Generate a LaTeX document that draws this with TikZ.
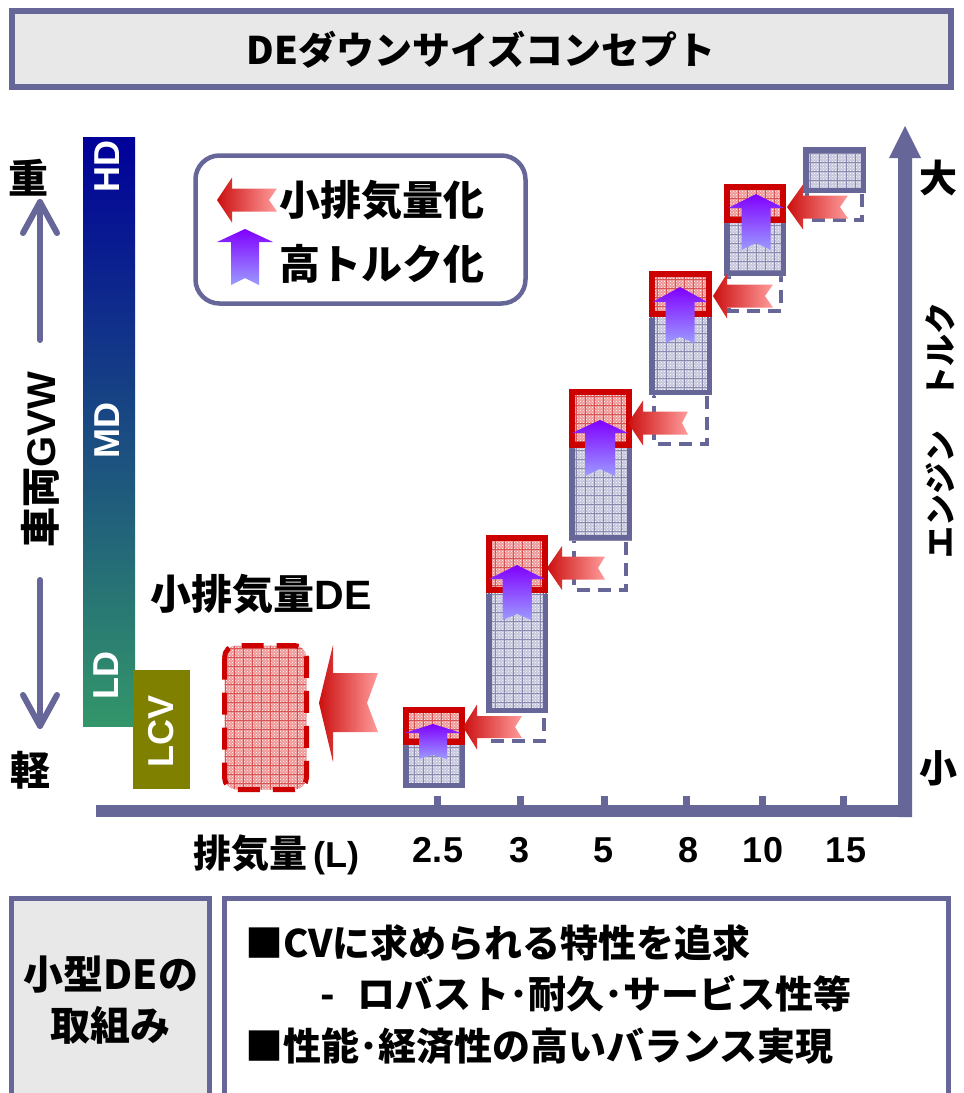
\documentclass[tikz,border=0pt]{standalone}
\usepackage{fontspec}
\setmainfont{Liberation Sans}
\newfontfamily\jp{Noto Sans CJK JP}
\usetikzlibrary{patterns}
\definecolor{slate}{HTML}{666699}
\definecolor{panelgray}{HTML}{E8E8E8}
\definecolor{redline}{HTML}{CC0000}
\definecolor{rdark}{HTML}{CC1010}
\definecolor{rlight}{HTML}{FF9C9C}
\definecolor{ptop}{HTML}{8000FF}
\definecolor{pbot}{HTML}{9C9CFF}
\definecolor{gbase}{HTML}{C6C6DC}
\definecolor{ggridc}{HTML}{8A8AB0}
\definecolor{rbase}{HTML}{EE9898}
\definecolor{rgridc}{HTML}{D85454}
\definecolor{barTop}{HTML}{000099}
\definecolor{barBot}{HTML}{33966A}
\definecolor{olivebox}{HTML}{808000}
\tikzset{
  jpt/.style={font=\jp\bfseries\fontsize{#1}{#1}\selectfont, inner sep=0pt},
  lat/.style={font=\bfseries\fontsize{#1}{#1}\selectfont, inner sep=0pt},
  dashbox/.style={draw=slate, line width=4pt, dash pattern=on 13pt off 8pt},
  tickmark/.style={draw=slate, line width=7pt},
}
% left-pointing red arrow: tip x, tip y, head half height, head length, shaft half height, length, notch
\newcommand\larrow[7]{%
  \shade[left color=rdark,right color=rlight] (#1,#2) -- (#1+#4,#2-#3) -- (#1+#4,#2-#5) -- (#1+#6,#2-#5) -- (#1+#6-#7,#2) -- (#1+#6,#2+#5) -- (#1+#4,#2+#5) -- (#1+#4,#2+#3) -- cycle;}
% up-pointing purple arrow: centre x, tip y, head half width, head length, shaft half width, length, notch
\newcommand\uarrow[7]{%
  \shade[top color=ptop,bottom color=pbot] (#1,#2) -- (#1+#3,#2+#4) -- (#1+#5,#2+#4) -- (#1+#5,#2+#6) -- (#1,#2+#6-#7) -- (#1-#5,#2+#6) -- (#1-#5,#2+#4) -- (#1-#3,#2+#4) -- cycle;}
\newcommand\gbox[4]{%
  \fill[gbase] (#1,#2) rectangle (#3,#4);
  \begin{scope}
    \clip (#1,#2) rectangle (#3,#4);
    \fill[pattern=crosshatch dots, pattern color=white] (#1,#2) rectangle (#3,#4);
    \draw[ggridc, line width=0.7pt] (#1,#2) grid[step=9pt] (#3,#4);
  \end{scope}
  \draw[slate, line width=5.5pt] (#1+2.75,#2+2.75) rectangle (#3-2.75,#4-2.75);}
\newcommand\rbox[4]{%
  \fill[rbase] (#1,#2) rectangle (#3,#4);
  \begin{scope}
    \clip (#1,#2) rectangle (#3,#4);
    \fill[pattern=crosshatch dots, pattern color=white] (#1,#2) rectangle (#3,#4);
    \draw[rgridc, line width=0.7pt] (#1,#2) grid[step=9pt] (#3,#4);
  \end{scope}
  \draw[redline, line width=6pt] (#1+3,#2+3) rectangle (#3-3,#4-3);}
\begin{document}
\begin{tikzpicture}[x=1pt,y=-1pt]
\useasboundingbox (0,0) rectangle (964,1093);
\fill[white] (0,0) rectangle (964,1093);

% title
\draw[slate, fill=panelgray, line width=6pt] (12,11) rectangle (951,87);
\node[jpt=38] (title) at (481,50) {DEダウンサイズコンセプト};

% legend
\draw[slate, fill=white, line width=4.5pt, rounded corners=24pt] (195.5,155.5) rectangle (525.5,303.5);
\larrow{217}{200}{22.5}{15}{11.5}{60}{8}
\uarrow{245}{229}{28}{13}{14}{56}{7}
\node[jpt=41, anchor=west] (leg1) at (279,200) {小排気量化};
\node[jpt=41, anchor=west] (leg2) at (279,264) {高トルク化};

% vehicle class bar
\shade[top color=barTop, bottom color=barBot] (83,137) rectangle (135,726);
\fill[olivebox] (133,670) rectangle (190,789);
\node[lat=36, text=white, rotate=90] (hd) at (107,166) {HD};
\node[lat=36, text=white, rotate=90] (md) at (107,430) {MD};
\node[lat=36, text=white, rotate=90] (ld) at (106,675) {LD};
\node[lat=36, text=white, rotate=90] (lcv) at (161,731) {LCV};

% GVW axis
\node[jpt=40] (heavy) at (29,178) {重};
\node[jpt=40] (light) at (30,770) {軽};
\node[rotate=90, inner sep=0pt] (gvw) at (40,460) {{\jp\bfseries\fontsize{40}{40}\selectfont 車両}{\bfseries\fontsize{40}{40}\selectfont GVW}};
\draw[slate, line width=6pt, line cap=round, line join=round] (40,340) -- (40,202);
\draw[slate, line width=6pt, line cap=round, line join=round] (23,233) -- (40,202) -- (57,233);
\draw[slate, line width=6pt, line cap=round, line join=round] (40,580) -- (40,726);
\draw[slate, line width=6pt, line cap=round, line join=round] (23,695) -- (40,726) -- (57,695);

% axes
\fill[slate] (96,805) rectangle (912,817);
\fill[slate] (898,817) -- (898,158) -- (889,158) -- (905,126) -- (921,158) -- (912,158) -- (912,817) -- cycle;
\foreach \tx in {437,520,604,686,762,843} \draw[tickmark] (\tx,796) -- (\tx,806);

% axis labels
\node[jpt=38] (big) at (938,178) {大};
\node[jpt=38] (small) at (938,768) {小};
\node[jpt=32, rotate=90] (torque) at (940,430) {エンジン　トルク};
\node[inner sep=0pt] (disp) at (276,855) {{\jp\bfseries\fontsize{38}{38}\selectfont 排気量}{\bfseries\fontsize{36}{36}\selectfont\,(L)}};
\node[lat=36] (t25) at (438,850) {2.5};
\node[lat=36] (t3) at (520,850) {3};
\node[lat=36] (t5) at (604,850) {5};
\node[lat=36] (t8) at (689,850) {8};
\node[lat=36] (t10) at (763,850) {10};
\node[lat=36] (t15) at (846,850) {15};

% small displacement DE
\node[inner sep=0pt] (sde) at (261,594) {{\jp\bfseries\fontsize{41}{41}\selectfont 小排気量}{\bfseries\fontsize{41}{41}\selectfont DE}};
\fill[rbase, rounded corners=12pt] (224.5,645.5) rectangle (306.5,789.5);
\begin{scope}
  \clip[rounded corners=12pt] (224.5,645.5) rectangle (306.5,789.5);
  \fill[pattern=crosshatch dots, pattern color=white] (224,645) rectangle (307,790);
  \draw[rgridc, line width=0.7pt] (224,645) grid[step=9pt] (307,790);
\end{scope}
\draw[redline, line width=5pt, rounded corners=12pt, dash pattern=on 22pt off 13pt] (224.5,645.5) rectangle (306.5,789.5);
\shade[left color=rdark,right color=rlight] (319,703) -- (333,645) -- (333,673) -- (378,673) -- (367,703) -- (378,732) -- (333,732) -- (333,762) -- cycle;

% former positions (dashed)
\draw[dashbox] (490,700) rectangle (544,741);
\draw[dashbox] (574,530) rectangle (626,590);
\draw[dashbox] (654,385) rectangle (707,444);
\draw[dashbox] (729,266) rectangle (781,311);
\draw[dashbox] (807,183) rectangle (862,220);

% engines
\gbox{403}{707}{465}{788}
\rbox{403}{707}{465}{745}
\gbox{486}{535}{548}{713}
\rbox{486}{535}{548}{593}
\gbox{569}{389}{632}{540}
\rbox{569}{389}{632}{448}
\gbox{649}{271}{712}{395}
\rbox{649}{271}{712}{317}
\gbox{724}{184}{786}{276}
\rbox{724}{184}{786}{223}
\gbox{803}{147}{866}{193}

\uarrow{433}{724}{28.5}{9}{14}{35}{4}
\uarrow{517}{565}{28}{14}{14.5}{55}{6}
\uarrow{600}{420}{28}{13}{15}{56}{7}
\uarrow{680}{287}{27.5}{15}{14.5}{56}{6}
\uarrow{756}{194}{28}{14}{14.5}{56}{7}

\larrow{463}{727}{22.5}{14}{11}{59}{7}
\larrow{547}{568}{22}{15}{11.5}{58}{7}
\larrow{628}{423}{22.5}{15}{11.5}{60}{6}
\larrow{713}{296}{22.5}{14}{11.5}{60}{8}
\larrow{787}{207}{22.5}{16}{11.5}{61}{8}

% bottom panels
\draw[slate, fill=panelgray, line width=5pt] (11.5,898.5) rectangle (209.5,1110);
\draw[slate, fill=white, line width=5pt] (224.5,898.5) rectangle (948.5,1110);
\node[jpt=40] (org1) at (111,975) {小型DEの};
\node[jpt=40] (org2) at (110,1025) {取組み};
\node[jpt=38, anchor=west] (b1) at (245,943) {■CVに求められる特性を追求};
\node[jpt=38, anchor=west] (b2) at (320,994) {-\hspace{0.6em}ロバスト･耐久･サービス性等};
\node[jpt=38, anchor=west] (b3) at (245,1046) {■性能･経済性の高いバランス実現};
\end{tikzpicture}
\end{document}
